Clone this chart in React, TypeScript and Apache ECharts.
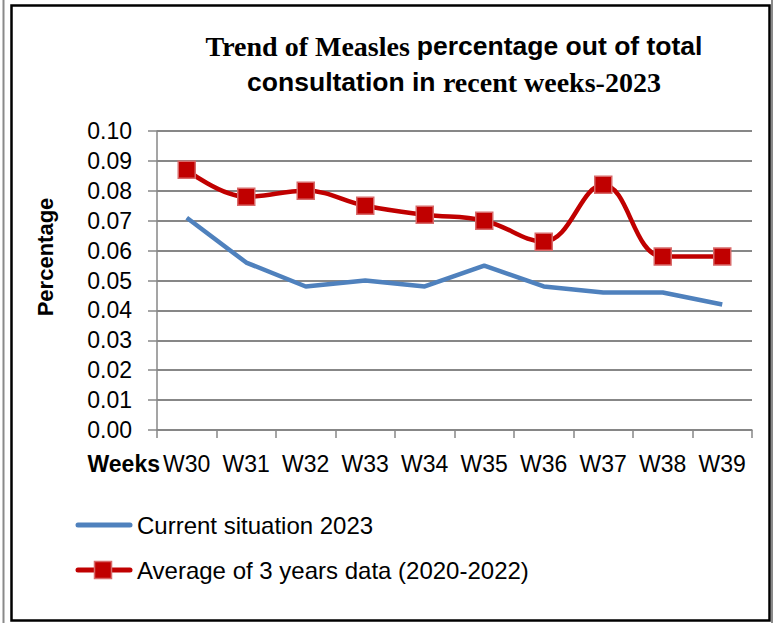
import React, { useEffect, useRef } from "react";
import * as echarts from "echarts";

const weeks = ["W30", "W31", "W32", "W33", "W34", "W35", "W36", "W37", "W38", "W39"];
const current2023 = [0.071, 0.056, 0.048, 0.05, 0.048, 0.055, 0.048, 0.046, 0.046, 0.042];
const avg3Years = [0.087, 0.078, 0.08, 0.075, 0.072, 0.07, 0.063, 0.082, 0.058, 0.058];
const seriesNames = ["Current situation 2023", "Average of 3 years data (2020-2022)"];

const SANS = "'Liberation Sans', Arial, sans-serif";
const SERIF = "'Liberation Serif', 'Times New Roman', serif";
const BLUE = "#4F81BD";
const RED = "#C00000";

export default function App() {
  const ref = useRef<HTMLDivElement>(null);
  useEffect(() => {
    if (!ref.current) return;
    const chart = echarts.init(ref.current, null, { renderer: "svg" });
    const gray = "#878787";
    chart.setOption({
      animation: false,
      backgroundColor: "#ffffff",
      grid: { left: 157, right: 24, top: 131, bottom: 193, containLabel: false },
      xAxis: {
        type: "category",
        data: weeks,
        boundaryGap: true,
        axisLine: { lineStyle: { color: gray, width: 1.5 } },
        axisTick: { show: true, interval: 0, length: 8, lineStyle: { color: gray, width: 1.5 } },
        axisLabel: { interval: 0, margin: 22, color: "#000", fontSize: 23, fontFamily: SANS },
        splitLine: { show: false },
      },
      yAxis: {
        type: "value",
        min: 0,
        max: 0.1,
        interval: 0.01,
        axisLine: { show: true, lineStyle: { color: gray, width: 1.5 } },
        axisTick: { show: true, length: 9, lineStyle: { color: gray, width: 1.5 } },
        axisLabel: {
          margin: 25,
          color: "#000",
          fontSize: 23,
          fontFamily: SANS,
          formatter: (v: number) => v.toFixed(2),
        },
        splitLine: { show: true, lineStyle: { color: gray, width: 1.8 } },
      },
      series: [
        {
          name: seriesNames[0],
          type: "line",
          data: current2023,
          symbol: "none",
          showSymbol: false,
          lineStyle: { color: BLUE, width: 4.5 },
          itemStyle: { color: BLUE },
          z: 3,
        },
        {
          name: seriesNames[1],
          type: "line",
          data: avg3Years,
          smooth: 0.4,
          symbol: "rect",
          symbolSize: 17,
          lineStyle: { color: RED, width: 4.5 },
          itemStyle: { color: RED, borderColor: "#D86A6A", borderWidth: 1.5 },
          z: 4,
        },
      ],
      graphic: [
        { type: "line", shape: { x1: 3.5, y1: 0, x2: 3.5, y2: 623 }, style: { stroke: "#8a8a8a", lineWidth: 2 } },
        { type: "line", shape: { x1: 772, y1: 0, x2: 772, y2: 623 }, style: { stroke: "#8a8a8a", lineWidth: 2 } },
        {
          type: "rect",
          shape: { x: 11.5, y: 5.5, width: 758, height: 615 },
          style: { fill: "none", stroke: "#000", lineWidth: 2.5 },
        },
        {
          type: "text",
          x: 454,
          y: 28,
          style: {
            text:
              "{a|Trend of Measles }{b|percentage out of total}\n{b|consultation in }{a|recent weeks-2023}",
            align: "center",
            verticalAlign: "top",
            lineHeight: 36,
            fill: "#000",
            rich: {
              a: { fontFamily: SERIF, fontWeight: "bold", fontSize: 28, lineHeight: 36, fill: "#000" },
              b: { fontFamily: SANS, fontWeight: "bold", fontSize: 26.5, lineHeight: 36, fill: "#000" },
            },
          },
        },
        {
          type: "text",
          x: 45,
          y: 257,
          rotation: Math.PI / 2,
          style: {
            text: "Percentage",
            align: "center",
            verticalAlign: "middle",
            fontFamily: SANS,
            fontWeight: "bold",
            fontSize: 22,
            fill: "#000",
          },
        },
        {
          type: "text",
          x: 160,
          y: 464,
          style: {
            text: "Weeks",
            align: "right",
            verticalAlign: "middle",
            fontFamily: SANS,
            fontWeight: "bold",
            fontSize: 23,
            fill: "#000",
          },
        },
        // legend
        {
          type: "line",
          shape: { x1: 78, y1: 525, x2: 130, y2: 525 },
          style: { stroke: BLUE, lineWidth: 5, lineCap: "round" },
        },
        {
          type: "text",
          x: 137,
          y: 525,
          style: {
            text: seriesNames[0],
            align: "left",
            verticalAlign: "middle",
            fontFamily: SANS,
            fontSize: 24,
            fill: "#000",
          },
        },
        {
          type: "line",
          shape: { x1: 78, y1: 570, x2: 130, y2: 570 },
          style: { stroke: RED, lineWidth: 5, lineCap: "round" },
        },
        {
          type: "rect",
          shape: { x: 94.5, y: 561.5, width: 17, height: 17 },
          style: { fill: RED, stroke: "#D86A6A", lineWidth: 1.5 },
        },
        {
          type: "text",
          x: 137,
          y: 570,
          style: {
            text: seriesNames[1],
            align: "left",
            verticalAlign: "middle",
            fontFamily: SANS,
            fontSize: 24,
            fill: "#000",
          },
        },
      ],
    });
    return () => chart.dispose();
  }, []);
  return (
    <div
      ref={ref}
      style={{ position: "absolute", left: 0, top: 0, width: 776, height: 623, background: "#fff" }}
    />
  );
}
